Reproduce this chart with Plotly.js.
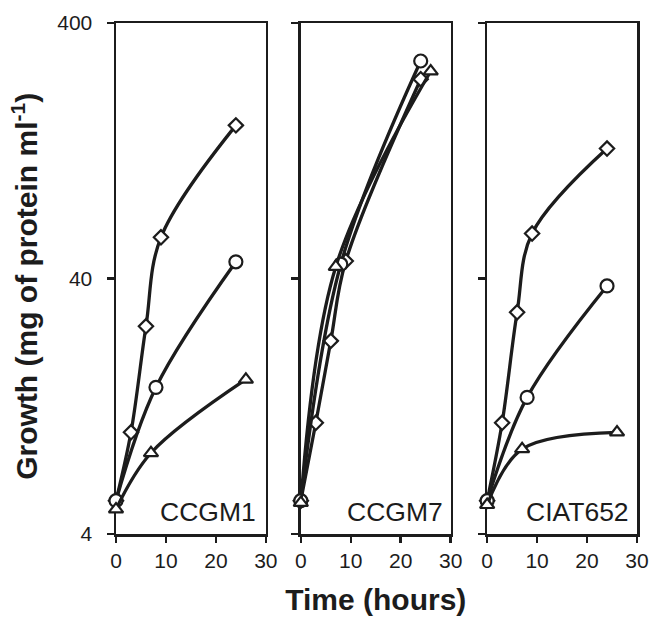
<!DOCTYPE html>
<html>
<head>
<meta charset="utf-8">
<script src="https://cdn.plot.ly/plotly-3.0.1.min.js"></script>
<style>html,body{margin:0;padding:0;background:#fff;}#chart{width:650px;height:633px;}</style>
</head>
<body>
<div id="chart"></div>
<script>
// Strain panels
var panels = ["CCGM1", "CCGM7", "CIAT652"];

// Sampling times (hours) per series
var diamondTimes = [0, 3, 6, 9, 24];
var circleTimes = [0, 8, 24];
var triangleTimes = [0, 7, 26];

// Growth (mg of protein ml-1)
var diamondCCGM1 = [5.4, 10.0, 26, 58, 159];
var circleCCGM1 = [5.4, 15.0, 46.5];
var triangleCCGM1 = [5.0, 8.3, 16.1];

var diamondCCGM7 = [5.4, 10.9, 22.8, 46.8, 241];
var circleCCGM7 = [5.4, 45.5, 284];
var triangleCCGM7 = [5.3, 44.5, 259];

var diamondCIAT652 = [5.4, 10.9, 29.5, 60, 129];
var circleCIAT652 = [5.4, 13.7, 37.4];
var triangleCIAT652 = [5.2, 8.6, 10.0];

var yTickVals = [4, 40, 400];
var yTickText = ["4", "40", "400"];
var xTickVals = [0, 10, 20, 30];

var series = [
  [diamondCCGM1, circleCCGM1, triangleCCGM1],
  [diamondCCGM7, circleCCGM7, triangleCCGM7],
  [diamondCIAT652, circleCIAT652, triangleCIAT652]
];
var times = [diamondTimes, circleTimes, triangleTimes];
var symbols = ["diamond", "circle", "triangle-up"];
var sizes = [11, 13, 12.5];

var ink = "#1c1c1c";
var traces = [];
for (var p = 0; p < 3; p++) {
  var xa = p === 0 ? "x" : "x" + (p + 1);
  var ya = p === 0 ? "y" : "y" + (p + 1);
  for (var s = 0; s < 3; s++) {
    traces.push({
      x: times[s], y: series[p][s], xaxis: xa, yaxis: ya,
      type: "scatter", mode: "lines+markers", cliponaxis: false,
      line: {color: ink, width: 3.3, shape: "spline", smoothing: 1},
      marker: {symbol: symbols[s], size: sizes[s], color: "#ffffff",
               line: {color: ink, width: 2.2}},
      showlegend: false, hoverinfo: "x+y"
    });
  }
}

var fontFam = "Liberation Sans, Arial, Helvetica, sans-serif";
function xAxis(domain, anchor, title) {
  var a = {
    domain: domain, anchor: anchor, range: [0, 30], tickvals: xTickVals,
    showline: true, mirror: true, linecolor: ink, linewidth: 2.5,
    ticks: "outside", ticklen: 6, tickwidth: 2.5, tickcolor: ink,
    ticklabelstandoff: 10.5,
    showgrid: false, zeroline: false, layer: "below traces",
    tickfont: {family: fontFam, size: 21, color: ink}
  };
  if (title) {
    a.title = {text: title, standoff: 19, font: {family: fontFam, size: 30, color: ink}};
  }
  return a;
}
function yAxis(anchor, labels) {
  return {
    anchor: anchor, domain: [0, 1], type: "log",
    range: [Math.log10(4), Math.log10(400)],
    tickvals: yTickVals, ticktext: yTickText, showticklabels: labels,
    showline: true, mirror: true, linecolor: ink, linewidth: 2.5,
    ticks: "outside", ticklen: 7, tickwidth: 2.5, tickcolor: ink,
    ticklabelstandoff: labels ? 10 : 0,
    showgrid: false, zeroline: false, layer: "below traces",
    tickfont: {family: fontFam, size: 21, color: ink}
  };
}

var W = 521.5;
var labelX = [0.945, 0.963, 0.963];
var annotations = panels.map(function (name, i) {
  var sfx = i === 0 ? "" : String(i + 1);
  return {
    text: name, showarrow: false,
    xref: "x" + sfx + " domain", yref: "y" + sfx + " domain",
    x: labelX[i], y: 0.009, xanchor: "right", yanchor: "bottom",
    font: {family: fontFam, size: 26.5, color: ink}
  };
});
annotations.push({
  text: "<b>Growth (mg of protein ml<sup>-1</sup>)</b>", showarrow: false,
  textangle: -90, xref: "paper", yref: "paper",
  x: (24.2 - 116) / W, y: (534 - 286.5) / 511, xanchor: "center", yanchor: "middle",
  font: {family: fontFam, size: 30, color: ink}
});

var layout = {
  width: 650, height: 633,
  margin: {l: 116, r: 12.5, t: 23, b: 99},
  paper_bgcolor: "#ffffff", plot_bgcolor: "#ffffff",
  font: {family: fontFam, color: ink},
  xaxis: xAxis([0, 150 / W], "y", null),
  xaxis2: xAxis([185 / W, 335 / W], "y2", "<b>Time (hours)</b>"),
  xaxis3: xAxis([371.5 / W, 1], "y3", null),
  yaxis: yAxis("x", true),
  yaxis2: yAxis("x2", false),
  yaxis3: yAxis("x3", false),
  annotations: annotations
};

Plotly.newPlot("chart", traces, layout, {displayModeBar: false, staticPlot: true});
</script>
</body>
</html>
